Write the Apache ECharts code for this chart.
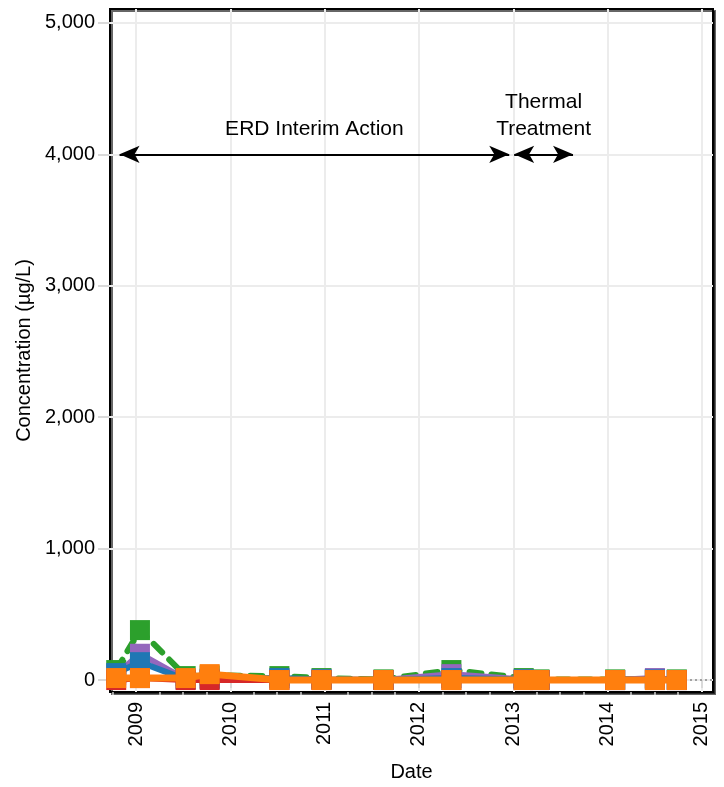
<!DOCTYPE html>
<html>
<head>
<meta charset="utf-8">
<script src="https://cdn.jsdelivr.net/npm/echarts@6/dist/echarts.min.js"></script>
<style>
  html, body { margin: 0; padding: 0; background: #fff; }
  #chart { width: 724px; height: 787px; }
</style>
</head>
<body>
<div id="chart"></div>
<script>
// sampling dates (shared by all series)
var dates = ['2008-10-16', '2009-01-16', '2009-07-12', '2009-10-13', '2010-07-10', '2010-12-20',
    '2011-08-17', '2012-05-06', '2013-02-10', '2013-04-12', '2014-01-30', '2014-07-03', '2014-09-26'];

// concentrations (ug/L)
var greenValues = [76, 380, 30, 35, 30, 15, 5, 76, 15, 5, 5, 10, 5];
var purpleValues = [40, 200, 5, 10, 10, 5, 0, 45, 5, 0, 0, 15, 0];
var blueValues = [53, 136, 5, 10, 15, 5, 0, 15, 5, 0, 0, 5, 0];
var redValues = [0, 15, 0, 0, 0, 0, 0, 0, 0, 0, 0, 0, 0];
var orangeValues = [15, 15, 15, 45, 0, 0, 0, 0, 0, 0, 0, 0, 0];

var yTicks = [0, 1000, 2000, 3000, 4000, 5000];
var yearTicks = [2009, 2010, 2011, 2012, 2013, 2014, 2015];

// remediation phases [label, start, end]
var erdPhase = ['ERD Interim Action', '2008-10-29', '2012-12-16'];
var thermalPhase = ['Thermal\nTreatment', '2013-01-04', '2013-08-20'];
var phaseLevel = 4000;

function toTime(s) {
    var p = s.split('-');
    return new Date(+p[0], +p[1] - 1, +p[2]).getTime();
}

function pairs(values) {
    var out = [];
    for (var i = 0; i < dates.length; i++) {
        out.push([toTime(dates[i]), values[i]]);
    }
    return out;
}

var yearValues = yearTicks.map(function (y) { return new Date(y, 0, 1).getTime(); });
var quarterValues = [];
for (var y = 2008; y <= 2015; y++) {
    for (var m = 3; m < 12; m += 3) {
        quarterValues.push(new Date(y, m, 1).getTime());
    }
}
var xMin = toTime('2008-09-22');
var xMax = toTime('2015-02-13');

function phaseLine(phase) {
    return [
        { coord: [toTime(phase[1]), phaseLevel], symbol: 'arrow', name: phase[0] },
        { coord: [toTime(phase[2]), phaseLevel], symbol: 'arrow' }
    ];
}

function lineSeries(name, color, values, z, dashed) {
    return {
        name: name,
        type: 'line',
        data: pairs(values),
        z: z,
        symbol: 'rect',
        symbolSize: 20,
        showAllSymbol: true,
        itemStyle: { color: color },
        lineStyle: {
            color: color,
            width: 6,
            type: dashed ? [12, 10] : 'solid',
            cap: 'round'
        }
    };
}

var series = [
    lineSeries('PCE', '#2ca02c', greenValues, 2, true),
    lineSeries('TCE', '#9467bd', purpleValues, 3, false),
    lineSeries('cis-1,2-DCE', '#1f77b4', blueValues, 4, false),
    lineSeries('trans-1,2-DCE', '#d62728', redValues, 5, false),
    lineSeries('Vinyl chloride', '#ff7f0e', orangeValues, 6, false)
];
series[4].lineStyle.width = 7;
// phase arrows and zero reference line
series.push({
    name: 'phases',
    type: 'line',
    data: [],
    z: 7,
    markLine: {
        silent: true,
        animation: false,
        symbolSize: [13, 20],
        lineStyle: { color: '#000', width: 2, type: 'solid' },
        label: {
            show: true,
            position: 'insideMiddleTop',
            distance: 12,
            formatter: '{b}',
            color: '#000',
            fontSize: 21,
            lineHeight: 27,
            fontFamily: 'Liberation Sans'
        },
        data: [phaseLine(erdPhase), phaseLine(thermalPhase)]
    }
});
series.push({
    name: 'zero',
    type: 'line',
    data: [],
    z: 1,
    markLine: {
        silent: true,
        animation: false,
        symbol: 'none',
        label: { show: false },
        lineStyle: { color: '#888', width: 1.5, type: [2, 3] },
        data: [{ yAxis: 0 }]
    }
});

var myChart = echarts.init(document.getElementById('chart'));
var option = {
    animation: false,
    backgroundColor: '#fff',
    textStyle: { fontFamily: 'Liberation Sans' },
    grid: {
        left: 110,
        right: 11,
        top: 9,
        bottom: 93,
        show: true,
        backgroundColor: '#fff',
        borderColor: '#000',
        borderWidth: 2,
        shadowColor: 'rgba(0,0,0,0.6)',
        shadowOffsetX: 2,
        shadowOffsetY: 2
    },
    xAxis: [{
        type: 'value',
        min: xMin,
        max: xMax,
        name: 'Date',
        nameLocation: 'middle',
        nameGap: 70,
        nameTextStyle: { color: '#000', fontSize: 20 },
        axisLine: { show: false },
        axisTick: { show: true, customValues: yearValues, length: 8, lineStyle: { color: '#d9d9d9', width: 2 } },
        axisLabel: {
            customValues: yearValues,
            rotate: 90,
            margin: 10,
            color: '#000',
            fontSize: 20,
            formatter: function (value) {
                return String(new Date(value).getFullYear());
            }
        },
        splitLine: { show: true, lineStyle: { color: '#ececec', width: 2 } }
    }, {
        type: 'value',
        gridIndex: 0,
        position: 'bottom',
        min: xMin,
        max: xMax,
        axisLine: { show: false },
        axisLabel: { show: false },
        splitLine: { show: false },
        axisTick: { show: true, customValues: quarterValues, length: 3, lineStyle: { color: '#cfcfcf', width: 1.5 } }
    }],
    yAxis: {
        type: 'value',
        min: -91,
        max: 5106,
        name: 'Concentration (µg/L)',
        nameLocation: 'middle',
        nameGap: 73,
        nameTextStyle: { color: '#000', fontSize: 20 },
        axisLine: { show: false },
        axisTick: { show: true, customValues: yTicks, length: 12, lineStyle: { color: '#d9d9d9', width: 2 } },
        axisLabel: {
            customValues: yTicks,
            margin: 15,
            color: '#000',
            fontSize: 20,
            formatter: function (value) {
                return value.toLocaleString('en-US');
            }
        },
        splitLine: { show: true, lineStyle: { color: '#ececec', width: 2 } }
    },
    series: series
};
myChart.setOption(option);
</script>
</body>
</html>
